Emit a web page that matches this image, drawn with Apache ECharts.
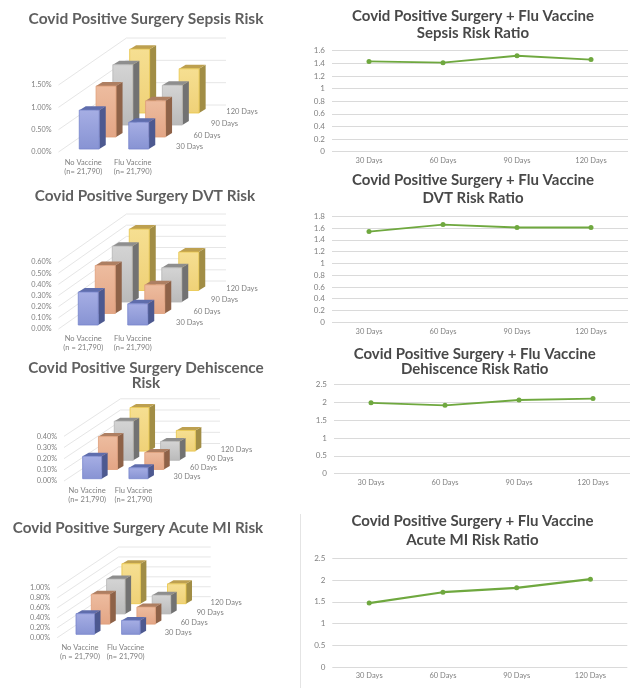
<!DOCTYPE html>
<html>
<head>
<meta charset="utf-8">
<style>html,body{margin:0;padding:0;background:#fff}#chart{width:631px;height:688px}</style>
<script src="https://cdn.jsdelivr.net/npm/echarts@6/dist/echarts.min.js"></script>
</head>
<body>
<div id="chart"></div>
<script>
// Days after surgery, shared by every panel
const windows = ['30 Days', '60 Days', '90 Days', '120 Days'];

// Risk values in percent: [30, 60, 90, 120 days]
const sepsisNoVaccine = [0.87, 1.14, 1.35, 1.43];
const sepsisFluVaccine = [0.60, 0.81, 0.89, 0.99];
const dvtNoVaccine = [0.295, 0.43, 0.50, 0.55];
const dvtFluVaccine = [0.19, 0.257, 0.307, 0.344];
const dehiscenceNoVaccine = [0.20, 0.295, 0.35, 0.39];
const dehiscenceFluVaccine = [0.098, 0.152, 0.169, 0.185];
const miNoVaccine = [0.415, 0.60, 0.70, 0.805];
const miFluVaccine = [0.28, 0.342, 0.376, 0.40];

// Risk ratios
const sepsisRatio = [1.43, 1.41, 1.52, 1.46];
const dvtRatio = [1.54, 1.66, 1.61, 1.61];
const dehiscenceRatio = [1.99, 1.92, 2.07, 2.11];
const miRatio = [1.47, 1.72, 1.82, 2.02];

// Category labels
const sepsisGroups = ['No Vaccine\n(n= 21,790)', 'Flu Vaccine\n(n= 21,790)'];
const dvtGroups = ['No Vaccine\n(n = 21,790)', 'Flu Vaccine\n(n= 21,790)'];
const dehiscenceGroups = ['No Vaccine\n(n= 21,790)', 'Flu Vaccine\n(n= 21,790)'];
const miGroups = ['No Vaccine\n(n = 21,790)', 'Flu Vaccine\n(n= 21,790)'];

// Bar face colours per time window: front gradient, edge, top, side
const faces = [
  { hi: '#A6AEE4', lo: '#8793D3', edge: '#7684CC', top: '#5F6DAC', side: '#4D5990' },
  { hi: '#EDBC9F', lo: '#E3A585', edge: '#E09E78', top: '#AE7F62', side: '#8E6248' },
  { hi: '#D4D4D4', lo: '#BABABA', edge: '#B5B5B5', top: '#8E8E8E', side: '#727272' },
  { hi: '#F6DF92', lo: '#EFD177', edge: '#E9C548', top: '#BDA050', side: '#A18D45' }
];

const INK = '#808080';
const LEFT_TITLE_INK = '#5F5F5F';
const RIGHT_TITLE_INK = '#484848';
const FONT = 'Lato, "Open Sans", sans-serif';

const riskPanels = [
  { title: 'Covid Positive Surgery Sepsis Risk', tx: 146, ty: 10, size: 15.5, ink: LEFT_TITLE_INK,
    none: sepsisNoVaccine, flu: sepsisFluVaccine, groups: sepsisGroups,
    max: 1.5, interval: 0.5, left: 58.5, band: 49.5, top: 85, height: 67,
    barDx: -4, barW: 20, baseY: -3, step: [16.8, -12], depth: [6.5, -4],
    wall: [68, -47], wallRight: 226, tag: [131, -5], tagStep: [17.5, -11.7], labelGap: 6 },
  { title: 'Covid Positive Surgery DVT Risk', tx: 145, ty: 188, size: 15.3, ink: LEFT_TITLE_INK,
    none: dvtNoVaccine, flu: dvtFluVaccine, groups: dvtGroups,
    max: 0.6, interval: 0.1, left: 58.5, band: 49.5, top: 262, height: 67,
    barDx: -5, barW: 20, baseY: -4, step: [17, -11.5], depth: [6.5, -4],
    wall: [68, -48], wallRight: 226, tag: [131, -6], tagStep: [17.5, -11.5], labelGap: 5 },
  { title: 'Covid Positive Surgery Dehiscence\nRisk', tx: 146, ty: 360, size: 15.3, lh: 15.7, ink: LEFT_TITLE_INK,
    none: dehiscenceNoVaccine, flu: dehiscenceFluVaccine, groups: dehiscenceGroups,
    max: 0.4, interval: 0.1, left: 64, band: 46.3, top: 436.3, height: 44.7,
    barDx: -4.5, barW: 19, baseY: -2.3, step: [15.8, -9.2], depth: [6, -3.5],
    wall: [56.5, -37.5], wallRight: 220, tag: [123, -4], tagStep: [16.5, -9], labelGap: 5 },
  { title: 'Covid Positive Surgery Acute MI Risk', tx: 138, ty: 520, size: 15.2, ink: LEFT_TITLE_INK,
    none: miNoVaccine, flu: miFluVaccine, groups: miGroups,
    max: 1, interval: 0.2, left: 57.2, band: 45.6, top: 588, height: 49.7,
    barDx: -4, barW: 18.5, baseY: -3.4, step: [15.3, -10.2], depth: [6, -3.5],
    wall: [61.4, -41], wallRight: 210.7, tag: [121, -4.7], tagStep: [16, -10.2], labelGap: 5 }
];

const ratioPanels = [
  { title: 'Covid Positive Surgery + Flu Vaccine\nSepsis Risk Ratio', tx: 473, ty: 7.5, size: 15, lh: 17.3, ink: RIGHT_TITLE_INK,
    values: sepsisRatio, max: 1.6, interval: 0.2, left: 332, width: 296, top: 50.7, height: 101, lw: 1.8 },
  { title: 'Covid Positive Surgery + Flu Vaccine\nDVT Risk Ratio', tx: 473, ty: 171, size: 15, lh: 18.3, ink: RIGHT_TITLE_INK,
    values: dvtRatio, max: 1.8, interval: 0.2, left: 332, width: 296, top: 216.3, height: 106, lw: 1.8 },
  { title: 'Covid Positive Surgery + Flu Vaccine\nDehiscence Risk Ratio', tx: 474.7, ty: 346.5, size: 15, lh: 15, ink: RIGHT_TITLE_INK,
    values: dehiscenceRatio, max: 2.5, interval: 0.5, left: 334, width: 296, top: 384.7, height: 89, lw: 1.8 },
  { title: 'Covid Positive Surgery + Flu Vaccine\nAcute MI Risk Ratio', tx: 472.5, ty: 511.5, size: 15, lh: 19, ink: RIGHT_TITLE_INK,
    values: miRatio, max: 2.5, interval: 0.5, left: 332.3, width: 295, top: 558.3, height: 108.7, lw: 2.2 }
];

const option = {
  animation: false,
  backgroundColor: '#fff',
  title: [], grid: [], xAxis: [], yAxis: [], series: [],
  graphic: [{
    type: 'line', silent: true,
    shape: { x1: 300.5, y1: 514, x2: 300.5, y2: 688 },
    style: { stroke: '#E4E4E4', lineWidth: 1 }
  }]
};

function addTitle(p) {
  option.title.push({
    text: p.title, left: p.tx, top: p.ty, textAlign: 'center', padding: 0,
    textStyle: { fontFamily: FONT, fontWeight: 700, fontSize: p.size, lineHeight: p.lh || p.size + 1.5, color: p.ink }
  });
}

// The side wall and back wall gridlines of a pseudo-3D panel, one polyline per tick
function wallRenderer(p) {
  return function (params, api) {
    const rect = params.coordSys;
    const y = api.coord([0, api.value(0)])[1];
    return {
      type: 'polyline', silent: true,
      shape: { points: [
        [rect.x, y],
        [rect.x + p.wall[0], y + p.wall[1]],
        [p.wallRight, y + p.wall[1]]
      ] },
      style: { stroke: '#E6E6E6', lineWidth: 1, fill: null }
    };
  };
}

// One extruded bar: side, top and front faces offset by the time window's depth
function barRenderer(p, slot) {
  const c = faces[slot];
  return function (params, api) {
    const top = api.coord([api.value(0), api.value(1)]);
    const zero = api.coord([api.value(0), 0]);
    const x0 = top[0] + p.barDx + slot * p.step[0];
    const x1 = x0 + p.barW;
    const shift = p.baseY + slot * p.step[1];
    const yb = zero[1] + shift;
    const yt = top[1] + shift;
    const dx = p.depth[0], dy = p.depth[1];
    return {
      type: 'group', silent: true,
      children: [
        { type: 'polygon', shape: { points: [[x1, yt], [x1 + dx, yt + dy], [x1 + dx, yb + dy], [x1, yb]] },
          style: { fill: c.side } },
        { type: 'polygon', shape: { points: [[x0, yt], [x0 + dx, yt + dy], [x1 + dx, yt + dy], [x1, yt]] },
          style: { fill: c.top } },
        { type: 'rect', shape: { x: x0, y: yt, width: p.barW, height: yb - yt },
          style: {
            fill: { type: 'linear', x: 0, y: 0, x2: 0, y2: 1, colorStops: [
              { offset: 0, color: c.hi }, { offset: 1, color: c.lo }
            ] },
            stroke: c.edge, lineWidth: 0.8
          } }
      ]
    };
  };
}

// Depth-axis caption for a time window
function tagRenderer(p) {
  return function (params, api) {
    const rect = params.coordSys;
    const slot = api.value(0);
    return {
      type: 'text', silent: true,
      x: rect.x + p.tag[0] + slot * p.tagStep[0],
      y: rect.y + rect.height + p.tag[1] + slot * p.tagStep[1],
      style: { text: windows[slot], fontFamily: FONT, fontSize: 7.5, fill: INK, align: 'center', verticalAlign: 'middle' }
    };
  };
}

riskPanels.forEach(function (p) {
  addTitle(p);
  const g = option.grid.length;
  option.grid.push({ left: p.left, width: p.band * 2, top: p.top, height: p.height });
  option.xAxis.push({
    gridIndex: g, type: 'category', data: p.groups, boundaryGap: true,
    axisLine: { show: false }, axisTick: { show: false }, splitLine: { show: false },
    axisLabel: { margin: p.labelGap, fontFamily: FONT, fontSize: 7.5, lineHeight: 9, color: INK, interval: 0 }
  });
  option.yAxis.push({
    gridIndex: g, type: 'value', min: 0, max: p.max, interval: p.interval,
    axisLine: { show: false }, axisTick: { show: false }, splitLine: { show: false },
    axisLabel: { margin: 7, fontFamily: FONT, fontSize: 7.3, color: INK,
      formatter: function (v) { return v.toFixed(2) + '%'; } }
  });

  const ticks = [];
  for (let i = 0; i <= Math.round(p.max / p.interval); i++) ticks.push([+(i * p.interval).toFixed(2)]);
  option.series.push({
    type: 'custom', xAxisIndex: g, yAxisIndex: g, silent: true, z: 1,
    encode: { y: 0 }, data: ticks, renderItem: wallRenderer(p)
  });

  // Rear time windows first so nearer bars overlap them
  [3, 2, 1, 0].forEach(function (slot) {
    option.series.push({
      type: 'custom', name: windows[slot], xAxisIndex: g, yAxisIndex: g, silent: true, z: 2,
      encode: { x: 0, y: 1 },
      data: [[0, p.none[slot]], [1, p.flu[slot]]],
      renderItem: barRenderer(p, slot)
    });
  });

  option.series.push({
    type: 'custom', xAxisIndex: g, yAxisIndex: g, silent: true, z: 3,
    data: windows.map(function (w, i) { return [i]; }), renderItem: tagRenderer(p)
  });
});

ratioPanels.forEach(function (p) {
  addTitle(p);
  const g = option.grid.length;
  option.grid.push({ left: p.left, width: p.width, top: p.top, height: p.height });
  option.xAxis.push({
    gridIndex: g, type: 'category', data: windows, boundaryGap: true,
    axisLine: { show: false }, axisTick: { show: false },
    axisLabel: { margin: 5, fontFamily: FONT, fontSize: 7.5, color: INK, interval: 0 }
  });
  option.yAxis.push({
    gridIndex: g, type: 'value', min: 0, max: p.max, interval: p.interval,
    axisLine: { show: false }, axisTick: { show: false },
    splitLine: { show: true, lineStyle: { color: '#DADADA', width: 1 } },
    axisLabel: { margin: 7, fontFamily: FONT, fontSize: 8, color: INK }
  });
  option.series.push({
    type: 'line', xAxisIndex: g, yAxisIndex: g, data: p.values, silent: true,
    symbol: 'circle', symbolSize: 5,
    lineStyle: { color: '#6FA83F', width: p.lw },
    itemStyle: { color: '#6FA83F' }
  });
});

echarts.init(document.getElementById('chart'), null, { renderer: 'canvas' }).setOption(option);
</script>
</body>
</html>
